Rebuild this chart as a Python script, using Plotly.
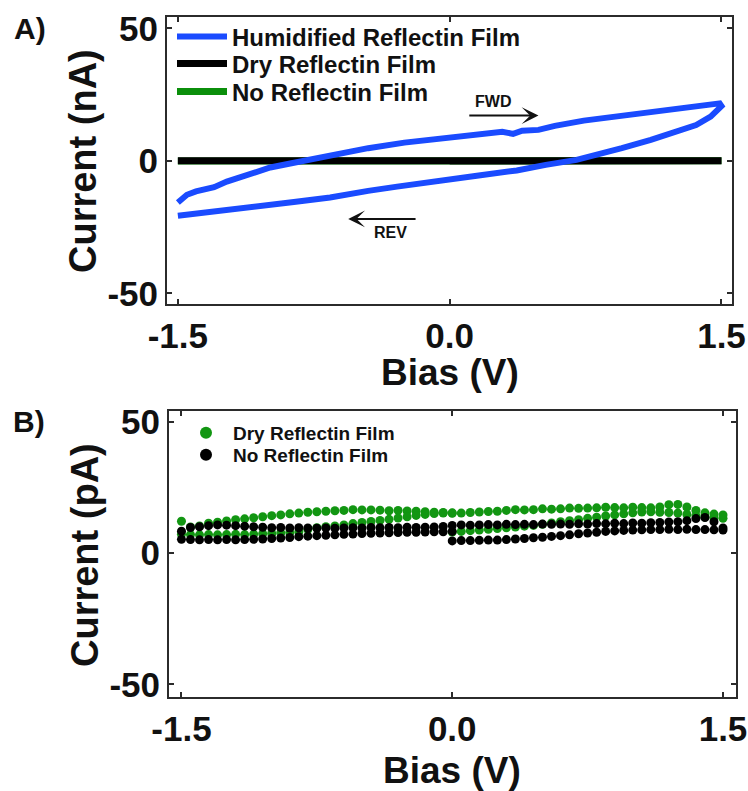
import plotly.graph_objects as go

# ---------------- Panel A: humidified film, current in nA ----------------
hum_fwd_bias = [-1.50, -1.45, -1.40, -1.30, -1.23, -1.11, -0.99, -0.88, -0.78, -0.64,
                -0.45, -0.25, -0.04, 0.16, 0.29, 0.35, 0.40, 0.49, 0.58, 0.74,
                0.95, 1.15, 1.36, 1.49]
hum_fwd_current = [-15.7, -12.8, -11.5, -9.9, -7.8, -4.9, -2.5, -1.0, 0.4, 2.6,
                   4.8, 6.9, 8.5, 10.0, 11.0, 10.2, 11.4, 11.7, 13.2, 15.2,
                   16.9, 18.5, 20.2, 21.7]
hum_rev_bias = [1.50, 1.44, 1.36, 1.23, 1.11, 0.95, 0.82, 0.70, 0.53, 0.37,
                0.16, -0.08, -0.29, -0.45, -0.66, -0.86, -1.07, -1.27, -1.50]
hum_rev_current = [20.7, 16.7, 13.5, 10.4, 7.9, 4.8, 2.3, 0.4, -1.5, -3.6,
                   -5.5, -7.5, -9.7, -11.3, -13.8, -15.5, -17.2, -18.8, -20.7]

# ---------------- Panel B: dry film / bare device, current in pA ----------------
# sweep 1: 0 -> +1.5 V, sweep 2: +1.5 -> -1.5 V, sweep 3: -1.5 -> 0 V
bias_sweep1 = [0.00, 0.05, 0.10, 0.15, 0.20, 0.25, 0.30, 0.35, 0.40, 0.45,
               0.50, 0.55, 0.60, 0.65, 0.70, 0.75, 0.80, 0.85, 0.90, 0.95,
               1.00, 1.05, 1.10, 1.15, 1.20, 1.25, 1.30, 1.35, 1.40, 1.45, 1.50]
bias_sweep2 = [1.50, 1.45, 1.40, 1.35, 1.30, 1.25, 1.20, 1.15, 1.10, 1.05,
               1.00, 0.95, 0.90, 0.85, 0.80, 0.75, 0.70, 0.65, 0.60, 0.55,
               0.50, 0.45, 0.40, 0.35, 0.30, 0.25, 0.20, 0.15, 0.10, 0.05,
               0.00, -0.05, -0.10, -0.15, -0.20, -0.25, -0.30, -0.35, -0.40, -0.45,
               -0.50, -0.55, -0.60, -0.65, -0.70, -0.75, -0.80, -0.85, -0.90, -0.95,
               -1.00, -1.05, -1.10, -1.15, -1.20, -1.25, -1.30, -1.35, -1.40, -1.45, -1.50]
bias_sweep3 = [-1.50, -1.45, -1.40, -1.35, -1.30, -1.25, -1.20, -1.15, -1.10, -1.05,
               -1.00, -0.95, -0.90, -0.85, -0.80, -0.75, -0.70, -0.65, -0.60, -0.55,
               -0.50, -0.45, -0.40, -0.35, -0.30, -0.25, -0.20, -0.15, -0.10, -0.05, 0.00]

dry_sweep1 = [8.1, 8.3, 8.6, 8.8, 9.1, 9.4, 9.7, 10.0, 10.3, 10.6,
              11.0, 11.5, 12.0, 12.4, 12.8, 13.3, 13.7, 14.2, 14.6, 15.0,
              15.4, 15.7, 15.8, 15.6, 15.5, 15.3, 14.8, 14.3, 13.8, 13.5, 13.3]
dry_sweep2 = [14.6, 14.9, 15.4, 16.3, 17.6, 18.6, 18.5, 17.6, 17.3, 17.4,
              17.5, 17.3, 17.4, 17.5, 17.3, 17.2, 17.1, 17.2, 16.9, 16.8,
              16.9, 16.6, 16.5, 16.6, 16.3, 16.0, 15.9, 15.7, 15.5, 15.3,
              15.2, 15.5, 15.6, 15.8, 16.0, 16.1, 16.3, 16.2, 16.4, 16.5,
              16.5, 16.6, 16.3, 16.2, 16.0, 15.8, 15.6, 15.3, 15.0, 14.6,
              14.3, 13.9, 13.5, 13.1, 12.8, 12.3, 11.8, 11.4, 10.4, 10.0, 12.2]
dry_sweep3 = [7.2, 7.1, 7.0, 7.1, 7.0, 7.1, 7.2, 7.1, 7.3, 7.4,
              7.5, 7.7, 7.9, 8.1, 9.0, 9.7, 10.1, 10.4, 10.8, 11.3,
              11.7, 12.1, 12.5, 12.9, 13.4, 13.9, 14.4, 14.8, 15.1, 15.3, 15.4]

none_sweep1 = [4.7, 4.8, 4.8, 4.9, 5.0, 5.0, 5.2, 5.4, 5.6, 5.9,
               6.1, 6.4, 6.7, 7.0, 7.4, 7.7, 8.0, 8.3, 8.5, 8.7,
               8.8, 8.9, 9.0, 9.0, 9.1, 9.0, 9.1, 9.0, 9.0, 8.9, 8.8]
none_sweep2 = [9.6, 12.0, 13.6, 13.2, 12.4, 12.0, 11.9, 11.7, 11.6, 11.4,
               11.5, 11.3, 11.4, 11.2, 11.3, 11.1, 11.2, 11.0, 11.1, 11.0,
               11.1, 10.9, 11.0, 10.9, 11.0, 10.8, 10.9, 10.8, 10.7, 10.8,
               10.6, 10.2, 10.0, 9.9, 9.8, 9.9, 9.7, 9.8, 9.7, 9.8,
               9.6, 9.7, 9.6, 9.5, 9.6, 9.5, 9.6, 9.7, 9.6, 9.8,
               9.7, 9.9, 10.1, 10.3, 10.5, 10.7, 10.8, 10.5, 10.1, 9.8, 8.4]
none_sweep3 = [5.3, 5.2, 5.1, 5.2, 5.1, 5.2, 5.1, 5.2, 5.3, 5.4,
               5.6, 5.8, 6.0, 6.3, 6.5, 6.7, 6.8, 7.0, 7.2, 7.3,
               7.5, 7.6, 7.7, 7.8, 7.9, 8.0, 8.0, 8.1, 8.2, 8.2, 8.3]

x_ticks = [-1.5, 0.0, 1.5]
x_tick_labels = ["-1.5", "0.0", "1.5"]
y_ticks = [-50, 0, 50]
y_tick_labels = ["-50", "0", "50"]

BLUE = "#1a4bff"
GREEN = "#0b8f0b"
DOT_GREEN = "#129612"
BLACK = "#000000"
FRAME = "#2b2b2b"
FONT = "Liberation Sans, Arial, sans-serif"

W, H = 748, 791


def px_x(p):
    return p / W


def px_y(p):
    return 1 - p / H


bias_all = bias_sweep1 + bias_sweep2 + bias_sweep3
dry_pA = dry_sweep1 + dry_sweep2 + dry_sweep3
none_pA = none_sweep1 + none_sweep2 + none_sweep3
dry_nA = [v / 1000.0 for v in dry_pA]
none_nA = [v / 1000.0 for v in none_pA]

fig = go.Figure()

# Panel A traces (drawn bottom-up: green, black, blue); one legend box per entry
fig.add_trace(go.Scatter(x=bias_all, y=none_nA, mode="lines", name="No Reflectin Film",
                         line=dict(color=GREEN, width=7),
                         xaxis="x", yaxis="y", legend="legend4"))
fig.add_trace(go.Scatter(x=bias_all, y=dry_nA, mode="lines", name="Dry Reflectin Film",
                         line=dict(color=BLACK, width=7),
                         xaxis="x", yaxis="y", legend="legend3"))
fig.add_trace(go.Scatter(x=hum_fwd_bias + hum_rev_bias,
                         y=hum_fwd_current + hum_rev_current,
                         mode="lines", name="Humidified Reflectin Film",
                         line=dict(color=BLUE, width=6),
                         xaxis="x", yaxis="y", legend="legend"))

# Panel B traces
fig.add_trace(go.Scatter(x=bias_all, y=dry_pA, mode="markers", name="Dry Reflectin Film",
                         marker=dict(color=DOT_GREEN, size=9),
                         xaxis="x2", yaxis="y2", legend="legend2"))
fig.add_trace(go.Scatter(x=bias_all, y=none_pA, mode="markers", name="No Reflectin Film",
                         marker=dict(color=BLACK, size=9),
                         xaxis="x2", yaxis="y2", legend="legend5"))

axis_common = dict(
    showgrid=False, zeroline=False, showline=True, mirror="ticks", automargin=False,
    linecolor=FRAME, linewidth=2, ticks="inside", ticklen=5, tickwidth=2,
    tickcolor=FRAME,
    tickfont=dict(family=FONT, size=35, color="#111", weight=700),
)

top_legend_font = dict(family=FONT, size=24, color="#111", weight=700)
bottom_legend_font = dict(family=FONT, size=19, color="#111", weight=700)


def line_legend(row_y):
    return dict(x=px_x(172), y=px_y(row_y), xanchor="left", yanchor="middle",
                bgcolor="rgba(0,0,0,0)", itemwidth=50, font=top_legend_font)


def dot_legend(row_y):
    return dict(x=px_x(179), y=px_y(row_y), xanchor="left", yanchor="middle",
                bgcolor="rgba(0,0,0,0)", itemsizing="constant", itemwidth=44,
                font=bottom_legend_font)


fig.update_layout(
    width=W, height=H,
    margin=dict(l=0, r=0, t=0, b=0, autoexpand=False),
    paper_bgcolor="white", plot_bgcolor="white",
    xaxis=dict(domain=[px_x(167), px_x(732)], range=[-1.56, 1.558], anchor="y",
               tickvals=x_ticks, ticktext=x_tick_labels, **axis_common),
    yaxis=dict(domain=[px_y(304), px_y(17)], range=[-54.0, 54.3], anchor="x",
               tickvals=y_ticks, ticktext=y_tick_labels, **axis_common),
    xaxis2=dict(domain=[px_x(169), px_x(736)], range=[-1.569, 1.572], anchor="y2",
                tickvals=x_ticks, ticktext=x_tick_labels, **axis_common),
    yaxis2=dict(domain=[px_y(697), px_y(411)], range=[-54.8, 54.2], anchor="x2",
                tickvals=y_ticks, ticktext=y_tick_labels, **axis_common),
    legend=line_legend(37),
    legend3=line_legend(64),
    legend4=line_legend(92),
    legend2=dot_legend(433),
    legend5=dot_legend(455),
    showlegend=True,
)

ann_font = dict(family=FONT, color="#111", weight=700)


def label(text, x, y, size, angle=0):
    return dict(text=text, x=px_x(x), y=px_y(y), xref="paper", yref="paper",
                xanchor="center", yanchor="middle", textangle=angle,
                showarrow=False, font=dict(size=size, **ann_font))


annotations = [
    # panel letters
    label("A)", 30, 28, 30),
    label("B)", 29, 421, 30),
    # axis titles
    label("Current (nA)", 83, 161, 38, -90),
    label("Bias (V)", 450, 372, 37),
    label("Current (pA)", 85, 555, 38, -90),
    label("Bias (V)", 452, 770, 37),
    # sweep direction arrows
    dict(x=0.49, y=17.1, ax=0.10, ay=17.1, xref="x", yref="y", axref="x", ayref="y",
         text="", showarrow=True, arrowhead=3, arrowsize=1.4, arrowwidth=2,
         arrowcolor="#111"),
    dict(text="FWD", x=0.238, y=22.3, xref="x", yref="y", showarrow=False,
         xanchor="center", yanchor="middle", font=dict(size=16, **ann_font)),
    dict(x=-0.56, y=-21.9, ax=-0.18, ay=-21.9, xref="x", yref="y", axref="x", ayref="y",
         text="", showarrow=True, arrowhead=3, arrowsize=1.4, arrowwidth=2,
         arrowcolor="#111"),
    dict(text="REV", x=-0.326, y=-27.2, xref="x", yref="y", showarrow=False,
         xanchor="center", yanchor="middle", font=dict(size=16, **ann_font)),
]
fig.update_layout(annotations=annotations)

fig.write_html("out.html")
